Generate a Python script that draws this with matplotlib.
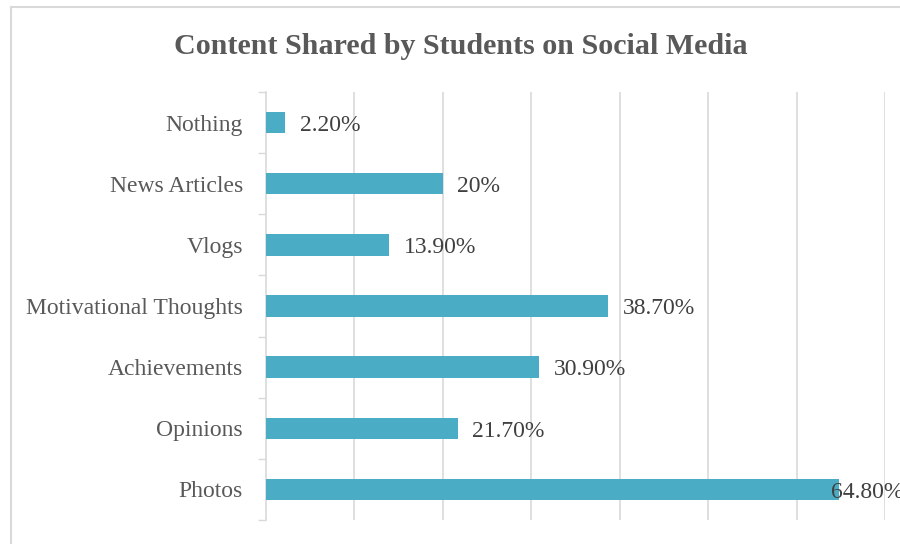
import matplotlib
matplotlib.use("Agg")
import matplotlib.pyplot as plt
from matplotlib.lines import Line2D
import numpy as np

# top-to-bottom order as drawn
categories = ["Nothing", "News Articles", "Vlogs", "Motivational Thoughts",
              "Achievements", "Opinions", "Photos"]
shares = [2.2, 20.0, 13.9, 38.7, 30.9, 21.7, 64.8]
value_labels = ["2.20%", "20%", "13.90%", "38.70%", "30.90%", "21.70%", "64.80%"]

BAR = "#4BACC6"
GRID = "#d9d9d9"

fig = plt.figure(figsize=(9, 5.44), dpi=100)
ax = fig.add_axes([266 / 900, 24 / 544, 619 / 900, 428 / 544])

y = np.arange(len(categories))
ax.barh(y, shares, height=0.35, color=BAR, zorder=3)
ax.set_ylim(len(categories) - 0.5, -0.5)
ax.set_xlim(0, 70)

ax.set_yticks(y)
ax.set_yticklabels(categories, family="Liberation Serif", fontsize=17, color="#595959")
ax.set_yticks(np.arange(-0.5, len(categories)), minor=True)
ax.tick_params(axis="y", which="major", length=0, pad=16.5)
ax.tick_params(axis="y", which="minor", length=6, width=1, color=GRID)
ax.set_xticks(np.arange(10, 71, 10))
ax.tick_params(axis="x", length=0, labelbottom=False)
ax.grid(axis="x", color=GRID, lw=1.2, zorder=0)

for s in ("top", "right", "bottom"):
    ax.spines[s].set_visible(False)
ax.spines["left"].set_color(GRID)
ax.spines["left"].set_linewidth(1.2)

# the last label doesn't fit past its bar, so it gets pulled back over the bar end
for yi, v, lab in zip(y, shares, value_labels):
    off = 10.5 if v + 8 < 70 else -5.5
    ax.annotate(lab, (v, yi), xytext=(off, -2), textcoords="offset points",
                ha="left", va="center", family="Liberation Serif",
                fontsize=17, color="#404040", zorder=4, annotation_clip=False)

fig.text(461 / 900, (544 - 46) / 544, "Content Shared by Students on Social Media",
         ha="center", va="center", family="Liberation Serif", weight="bold",
         fontsize=21.6, color="#595959")

# chart area border (only top and left edges fall inside the canvas)
fig.add_artist(Line2D([10.5 / 900, 10.5 / 900], [0, (544 - 6.5) / 544],
                      transform=fig.transFigure, color=GRID, lw=1.5))
fig.add_artist(Line2D([10.5 / 900, 1], [(544 - 6.5) / 544] * 2,
                      transform=fig.transFigure, color=GRID, lw=1.5))

fig.savefig("out.png", dpi=100)
